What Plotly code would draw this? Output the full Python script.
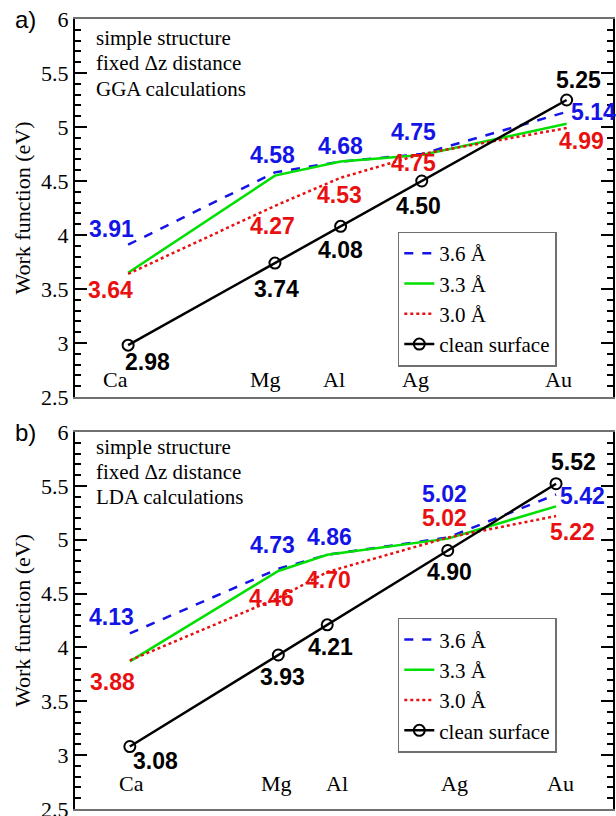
import plotly.graph_objects as go
from plotly.subplots import make_subplots

# ---------------- data ----------------
metals = ["Ca", "Mg", "Al", "Ag", "Au"]
series_names = ["3.6 Å", "3.3 Å", "3.0 Å", "clean surface"]

# Panel a) GGA
gga_36 = [3.91, 4.58, 4.68, 4.75, 5.14]
gga_33 = [3.65, 4.55, 4.68, 4.74, 5.03]
gga_30 = [3.64, 4.27, 4.53, 4.75, 4.99]
gga_clean = [2.98, 3.74, 4.08, 4.50, 5.25]

# Panel b) LDA
lda_36 = [4.13, 4.73, 4.86, 5.02, 5.42]
lda_33 = [3.87, 4.71, 4.86, 5.01, 5.31]
lda_30 = [3.88, 4.46, 4.70, 5.02, 5.22]
lda_clean = [3.08, 3.93, 4.21, 4.90, 5.52]

# x position of each metal = its clean-surface work function
x_a = gga_clean
x_b = lda_clean

y_ticks = [2.5, 3, 3.5, 4, 4.5, 5, 5.5, 6]
y_tick_text = ["2.5", "3", "3.5", "4", "4.5", "5", "5.5", "6"]

# ---------------- styles ----------------
BLUE = "#1414e6"
GREEN = "#00e000"
RED = "#e81010"
BLACK = "#000000"
SERIF = "Liberation Serif"
SANS = "Liberation Sans"

fig = make_subplots(rows=2, cols=1)


def add_panel(row, x, s36, s33, s30, clean, legend_name):
    fig.add_trace(go.Scatter(x=x, y=s36, mode="lines", name=series_names[0],
                             line=dict(color=BLUE, width=2.5, dash="dash"),
                             legend=legend_name), row=row, col=1)
    fig.add_trace(go.Scatter(x=x, y=s33, mode="lines", name=series_names[1],
                             line=dict(color=GREEN, width=2.5),
                             legend=legend_name), row=row, col=1)
    fig.add_trace(go.Scatter(x=x, y=s30, mode="lines", name=series_names[2],
                             line=dict(color=RED, width=2.5, dash="dot"),
                             legend=legend_name), row=row, col=1)
    fig.add_trace(go.Scatter(x=x, y=clean, mode="lines+markers", name=series_names[3],
                             line=dict(color=BLACK, width=2.5),
                             marker=dict(symbol="circle-open", size=11, color=BLACK,
                                         line=dict(width=2, color=BLACK)),
                             legend=legend_name), row=row, col=1)


add_panel(1, x_a, gga_36, gga_33, gga_30, gga_clean, "legend")
add_panel(2, x_b, lda_36, lda_33, lda_30, lda_clean, "legend2")

# label offsets (pixels: dx right, dy up)
off_a = {
    "blue": [(-17, 16), (-2, 17), (0, 16), (-8, 22), (27, 0)],
    "red": [(-18, -16), (-2, -20), (-1, -17), (-8, -9), (15, -13)],
    "black": [(19, -17), (2, -26), (0, -24), (-3, -25), (12, 20)],
    "cat": [-13, -9, -7, -6, -8],
}
off_b = {
    "blue": [(-18, 16), (-6, 24), (2, 18), (-3, 44), (26, -2)],
    "red": [(-17, -22), (-7, 0), (1, -8), (-3, 20), (16, -16)],
    "black": [(26, -14), (4, -22), (3, -22), (2, -22), (17, 22)],
    "cat": [2, -2, 10, 7, 4],
}


def add_labels(xref, yref, x, s36, s30, clean, offs, cat_y):
    for vals, key, col in ((s36, "blue", BLUE), (s30, "red", RED), (clean, "black", BLACK)):
        for xi, v, (dx, dy) in zip(x, vals, offs[key]):
            fig.add_annotation(x=xi, y=v, xref=xref, yref=yref, text=f"<b>{v:.2f}</b>",
                               showarrow=False, xshift=dx, yshift=dy,
                               font=dict(family=SANS, size=23, color=col))
    for xi, m, dx in zip(x, metals, offs["cat"]):
        fig.add_annotation(x=xi, y=cat_y, xref=xref, yref=yref, text=m, showarrow=False,
                           xshift=dx, font=dict(family=SERIF, size=22, color=BLACK))


add_labels("x", "y", x_a, gga_36, gga_30, gga_clean, off_a, 2.66)
add_labels("x2", "y2", x_b, lda_36, lda_30, lda_clean, off_b, 2.74)

# info text
info_a = ["simple structure", "fixed \u0394z distance", "GGA calculations"]
info_b = ["simple structure", "fixed \u0394z distance", "LDA calculations"]
for txt_list, xr, yref, ys in ((info_a, "x domain", "y domain", [0.95, 0.884, 0.814]),
                               (info_b, "x2 domain", "y2 domain", [0.96, 0.894, 0.828])):
    for t, yy in zip(txt_list, ys):
        fig.add_annotation(x=0.035, y=yy, xref=xr, yref=yref, text=t, showarrow=False,
                           xanchor="left", yanchor="middle",
                           font=dict(family=SERIF, size=21, color=BLACK))

# panel letters
fig.add_annotation(x=-0.069, y=1.0, xref="paper", yref="paper", text="a)", showarrow=False,
                   xanchor="right", yanchor="middle",
                   font=dict(family=SANS, size=24, color=BLACK))
fig.add_annotation(x=-0.069, y=0.4772, xref="paper", yref="paper", text="b)", showarrow=False,
                   xanchor="right", yanchor="middle",
                   font=dict(family=SANS, size=24, color=BLACK))

yaxis_common = dict(range=[2.5, 6], tickvals=y_ticks, ticktext=y_tick_text,
                    ticks="inside", ticklen=12, tickwidth=2, tickcolor=BLACK,
                    minor=dict(ticks="inside", ticklen=6, tickwidth=1.5, dtick=0.1,
                               tickcolor=BLACK, showgrid=False),
                    showline=True, linecolor=BLACK, linewidth=2, mirror="ticks",
                    showgrid=False, zeroline=False, automargin=False,
                    ticklabeloverflow="allow",
                    tickfont=dict(family=SERIF, size=22, color=BLACK),
                    title=dict(text="Work function (eV)", standoff=4,
                               font=dict(family=SERIF, size=22, color=BLACK)))
xaxis_common = dict(showticklabels=False, ticks="", showgrid=False, zeroline=False,
                    showline=True, linecolor="#707070", linewidth=2, mirror=True,
                    automargin=False)

legend_common = dict(xanchor="left", yanchor="top", xref="paper", yref="paper",
                     bgcolor="white", bordercolor="#707070", borderwidth=1.5,
                     font=dict(family=SERIF, size=21, color=BLACK), tracegroupgap=0,
                     itemwidth=30)

fig.update_layout(
    width=616, height=816,
    margin=dict(l=75, r=3, t=19, b=7, autoexpand=False),
    paper_bgcolor="white", plot_bgcolor="white",
    xaxis=dict(**xaxis_common, range=[2.705, 5.49], domain=[0, 1]),
    xaxis2=dict(**xaxis_common, range=[2.766, 5.846], domain=[0, 1]),
    yaxis=dict(**yaxis_common, domain=[0.5215, 1.0]),
    yaxis2=dict(**yaxis_common, domain=[0.0, 0.4772]),
    legend=dict(**legend_common, x=0.6, y=0.731),
    legend2=dict(**legend_common, x=0.6, y=0.242),
)

# remove the default page margin so the figure fills the window exactly
fig.write_html("out.html", post_script="document.body.style.margin='0';",
               config={"displayModeBar": False})
